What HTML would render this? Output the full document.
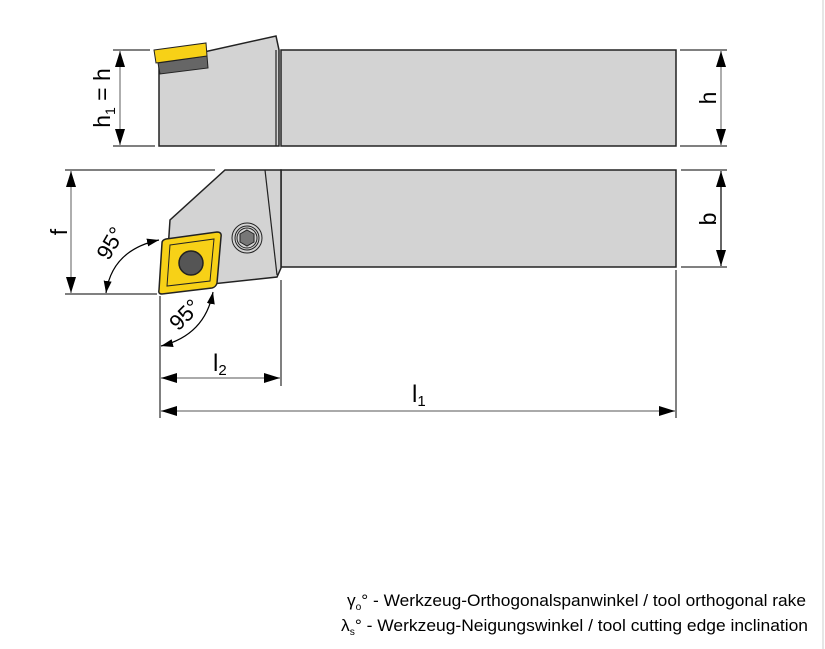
<!DOCTYPE html>
<html><head><meta charset="utf-8"><style>
html,body{margin:0;padding:0;background:#fff;width:825px;height:649px;overflow:hidden}
svg{display:block}
text{font-family:"Liberation Sans",Arial,sans-serif;fill:#000}
</style></head><body>
<svg width="825" height="649" viewBox="0 0 825 649" xmlns="http://www.w3.org/2000/svg">
<defs>
<marker id="a" viewBox="0 0 12 8" refX="12" refY="4" markerWidth="12" markerHeight="8" orient="auto-start-reverse" markerUnits="userSpaceOnUse"><path d="M0,0L12,4L0,8z" fill="#000"/></marker>
<marker id="b" viewBox="0 0 16 10" refX="16" refY="5" markerWidth="16" markerHeight="10" orient="auto-start-reverse" markerUnits="userSpaceOnUse"><path d="M0,0L16,5L0,10z" fill="#000"/></marker>
</defs>
<line x1="823" y1="0" x2="823" y2="649" stroke="#e6e6e6" stroke-width="2"/>
<!-- TOP VIEW -->
<rect x="281" y="50" width="395" height="96" fill="#d3d3d3" stroke="#222" stroke-width="1.5"/>
<polygon points="159,62 276,36 279,50 279,146 159,146" fill="#d3d3d3" stroke="#222" stroke-width="1.5"/>
<line x1="276" y1="50" x2="276" y2="146" stroke="#222" stroke-width="1.2"/>
<polygon points="158,63 207,56 208,68 160,74" fill="#666" stroke="#222"/>
<polygon points="154,50 206,43 207,56 156,63" fill="#f7d117" stroke="#222"/>
<!-- BOTTOM VIEW -->
<rect x="281" y="170" width="395" height="97" fill="#d3d3d3" stroke="#222" stroke-width="1.5"/>
<polygon points="225,170 281,170 281,268 277,277 212,284 168,250 170,220" fill="#d3d3d3" stroke="#222" stroke-width="1.5"/>
<line x1="265" y1="170" x2="277" y2="275" stroke="#222" stroke-width="1.2"/>
<circle cx="247" cy="238" r="15" fill="#d3d3d3" stroke="#222"/>
<circle cx="247" cy="238" r="12" fill="#d3d3d3" stroke="#222"/>
<circle cx="247" cy="238" r="10" fill="none" stroke="#222"/>
<polygon points="247,230 254,234 254,242 247,246 240,242 240,234" fill="#777" stroke="#222"/>
<path d="M166,239 L217,232 Q222,232 221,237 L217,283 Q216,287 212,288 L162,294 Q158,294 159,290 L162,243 Q162,240 166,239z" fill="#f7d117" stroke="#222" stroke-width="1.5"/>
<polygon points="170,245 214,239 210,281 167,286" fill="none" stroke="#222" stroke-width="1"/>
<circle cx="191" cy="263" r="12" fill="#555" stroke="#222" stroke-width="1.5"/>
<!-- dimensions -->
<g stroke="#000" stroke-width="1">
<line x1="113" y1="50" x2="150" y2="50"/><line x1="113" y1="146" x2="155" y2="146"/>
<line x1="680" y1="50" x2="727" y2="50"/><line x1="680" y1="146" x2="727" y2="146"/>
<line x1="681" y1="170" x2="727" y2="170"/><line x1="681" y1="267" x2="727" y2="267"/>
<line x1="65" y1="170" x2="215" y2="170"/><line x1="65" y1="294" x2="157" y2="294"/>
<line x1="160" y1="296" x2="160" y2="418"/><line x1="281" y1="280" x2="281" y2="386"/><line x1="676" y1="270" x2="676" y2="418"/>
</g>
<g stroke="#777" stroke-width="1.2" fill="none">
<line x1="120" y1="51" x2="120" y2="145" marker-start="url(#b)" marker-end="url(#b)"/>
<line x1="721" y1="51" x2="721" y2="145" marker-start="url(#b)" marker-end="url(#b)"/>
<line x1="721" y1="171" x2="721" y2="266" marker-start="url(#b)" marker-end="url(#b)" stroke="#000"/>
<line x1="71" y1="171" x2="71" y2="293" marker-start="url(#b)" marker-end="url(#b)"/>
<line x1="161" y1="378" x2="280" y2="378" marker-start="url(#b)" marker-end="url(#b)"/>
<line x1="161" y1="411" x2="675" y2="411" marker-start="url(#b)" marker-end="url(#b)"/>
<path d="M106,293 Q112,250 159,240" stroke="#000" marker-start="url(#a)" marker-end="url(#a)"/>
<path d="M161,346 Q205,335 213,292" stroke="#000" marker-start="url(#a)" marker-end="url(#a)"/>
</g>
<text transform="translate(110,98) rotate(-90)" font-size="23" text-anchor="middle">h<tspan font-size="14" dy="5">1</tspan><tspan dy="-5"> = h</tspan></text>
<text transform="translate(716,98) rotate(-90)" font-size="23" text-anchor="middle">h</text>
<text transform="translate(716,219) rotate(-90)" font-size="23" text-anchor="middle">b</text>
<text transform="translate(67,232) rotate(-90)" font-size="23" text-anchor="middle">f</text>
<text transform="translate(117,247) rotate(-60)" font-size="22" text-anchor="middle">95°</text>
<text transform="translate(190,320) rotate(-45)" font-size="22" text-anchor="middle">95°</text>
<text x="213" y="371" font-size="24">l<tspan font-size="15" dy="4">2</tspan></text>
<text x="412" y="402" font-size="24">l<tspan font-size="15" dy="4">1</tspan></text>
<text x="347" y="606" font-size="17" textLength="459" lengthAdjust="spacingAndGlyphs">γ<tspan font-size="10" dy="4">o</tspan><tspan dy="-4">° - Werkzeug-Orthogonalspanwinkel / tool orthogonal rake</tspan></text>
<text x="341" y="631" font-size="17" textLength="467" lengthAdjust="spacingAndGlyphs">λ<tspan font-size="10" dy="4">s</tspan><tspan dy="-4">° - Werkzeug-Neigungswinkel / tool cutting edge inclination</tspan></text>
</svg>
</body></html>
